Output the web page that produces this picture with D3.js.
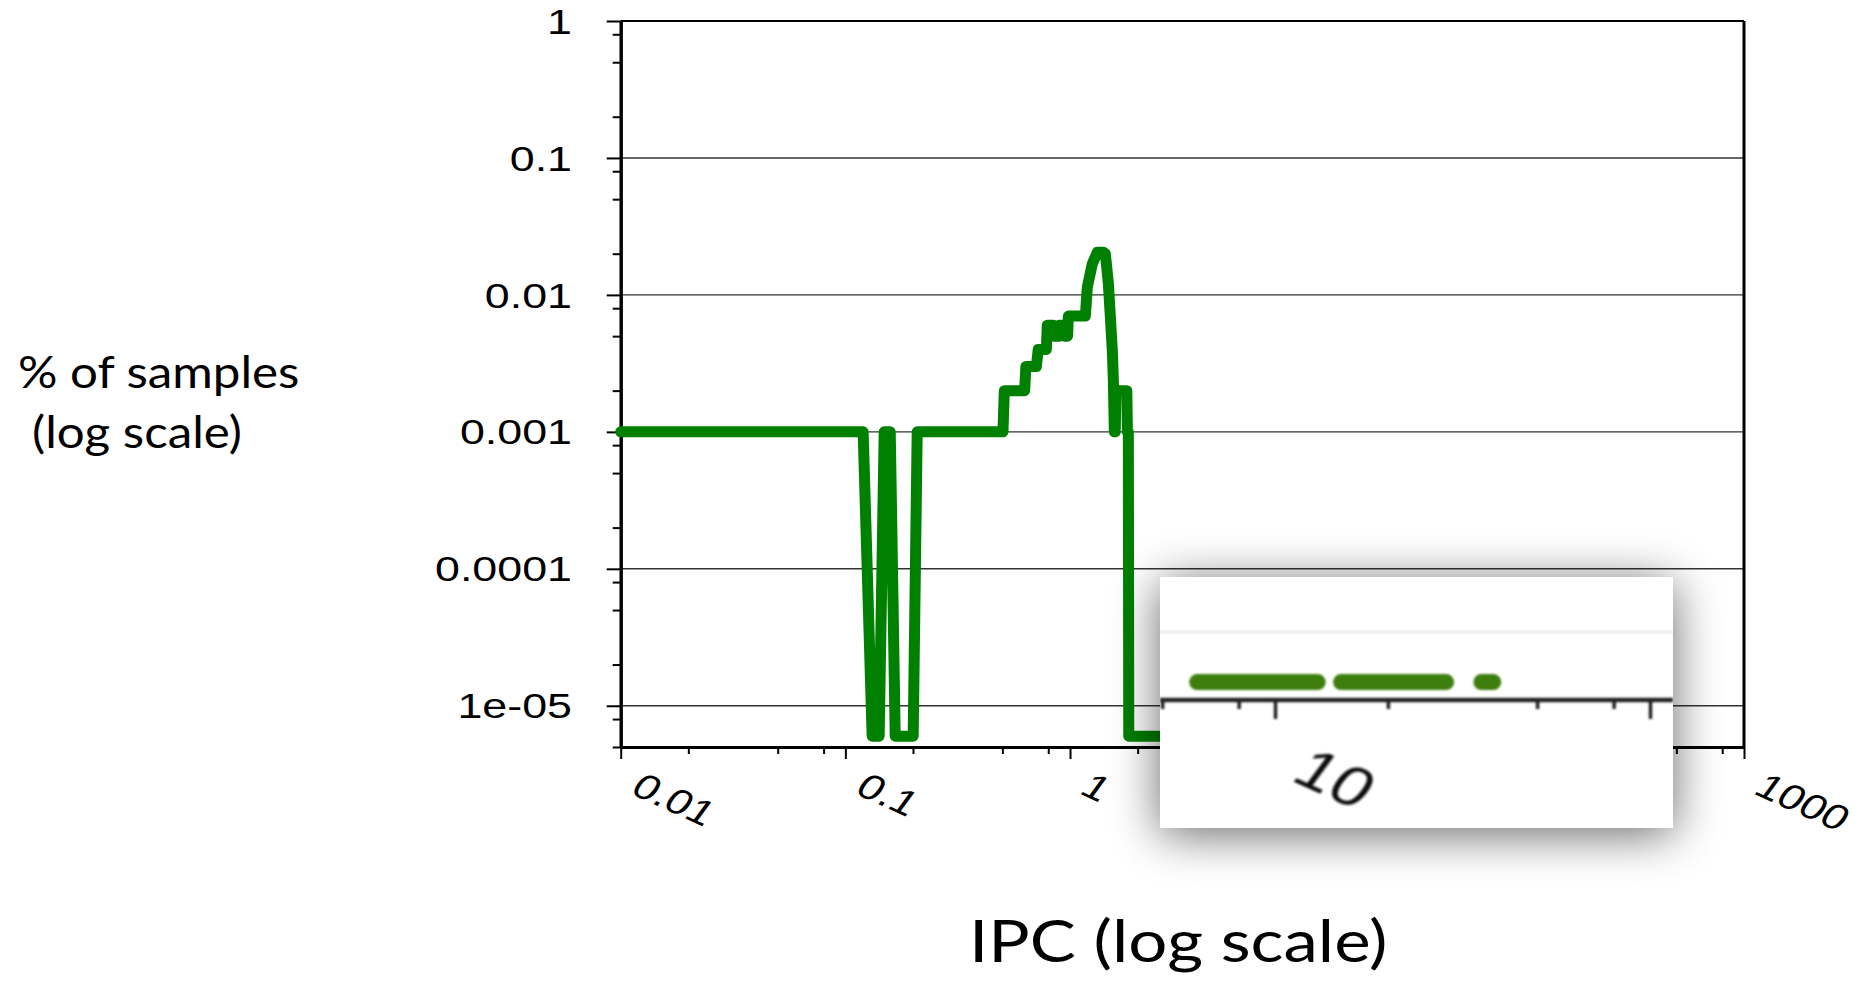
<!DOCTYPE html>
<html><head><meta charset="utf-8">
<script src="https://cdn.jsdelivr.net/npm/d3@7"></script>
<style>
html,body{margin:0;padding:0;background:#fff;}
svg{display:block;}
</style></head>
<body>
<svg id="chart" width="1858" height="981"></svg>
<script>
// ---------- data ----------
const ipc = [0.01, 0.120, 0.1316, 0.1414, 0.1489, 0.1584, 0.1667, 0.2004, 0.2088, 0.503, 0.510, 0.628, 0.636, 0.708, 0.722, 0.785, 0.792, 0.842, 0.850, 0.890, 0.900, 0.934, 0.945, 0.975, 0.983, 1.170, 1.194, 1.257, 1.323, 1.407, 1.436, 1.481, 1.512, 1.543, 1.559, 1.575, 1.590, 1.600, 1.790, 1.800, 1.818, 1.826, 5.9];
const samples = [0.001, 0.001, 6e-6, 6e-6, 0.001, 0.001, 6e-6, 6e-6, 0.001, 0.001, 0.002, 0.002, 0.003, 0.003, 0.004, 0.004, 0.006, 0.006, 0.005, 0.005, 0.006, 0.006, 0.005, 0.005, 0.007, 0.007, 0.0114, 0.0169, 0.0205, 0.0205, 0.020, 0.0122, 0.0069, 0.0039, 0.0024, 0.001, 0.001, 0.002, 0.002, 0.001, 0.001, 6e-6, 6e-6];

const xTickValues = [0.01, 0.1, 1, 10, 100, 1000];
const xTickLabels = ["0.01", "0.1", "1", "10", "100", "1000"];
const yTickValues = [1e-5, 1e-4, 1e-3, 1e-2, 1e-1, 1];
const yTickLabels = ["1e-05", "0.0001", "0.001", "0.01", "0.1", "1"];
const minorMultipliers = [2, 5, 8];

// zoomed inset (IPC around 10, at the floor level)
const insetTickValues = [10, 100];
const insetTickLabels = ["10", ""];
const insetMinorValues = [5, 8, 20, 50, 80];
const insetSegStart = [6.2, 15.0, 35.5];
const insetSegEnd = [13.0, 28.6, 38.2];
const insetLevel = 6e-6;

const yTitleLines = ["% of samples", "(log scale)"];
const xTitle = "IPC (log scale)";

// ---------- layout ----------
const svg = d3.select("#chart");
const L = 620.7, R = 1744, T = 21, B = 747;
const x = d3.scaleLog().domain([0.01, 1000]).range([L, R]);
const y = d3.scaleLog().domain([5e-6, 1]).range([B, T]);
const SX = 1.28; // horizontal stretch of the original picture

function minorsOf(domain, mults) {
  const out = [];
  const lo = Math.floor(Math.log10(domain[0])), hi = Math.ceil(Math.log10(domain[1]));
  for (let e = lo; e <= hi; e++) mults.forEach(m => {
    const v = m * Math.pow(10, e);
    if (v >= domain[0] * 0.999 && v <= domain[1] * 1.001) out.push(v);
  });
  return out;
}

// gridlines
svg.append("g").selectAll("line").data(yTickValues.filter(v => v < 1)).join("line")
  .attr("x1", L).attr("x2", R).attr("y1", d => y(d)).attr("y2", d => y(d))
  .attr("stroke", "#333").attr("stroke-width", 1.4);

// frame top/right
svg.append("line").attr("x1", L).attr("x2", R).attr("y1", T).attr("y2", T).attr("stroke", "#000").attr("stroke-width", 2);
svg.append("line").attr("x1", R).attr("x2", R).attr("y1", T).attr("y2", B).attr("stroke", "#000").attr("stroke-width", 3);

// y axis
const gy = svg.append("g").attr("transform", `translate(${L},0)`);
gy.call(d3.axisLeft(y).tickValues(minorsOf(y.domain(), minorMultipliers)).tickSize(8).tickSizeOuter(0).tickFormat(""));
gy.append("g").call(d3.axisLeft(y).tickValues(yTickValues).tickSize(14).tickSizeOuter(0).tickFormat(""));
gy.selectAll("path.domain").attr("stroke", "#000").attr("stroke-width", 3);
gy.selectAll(".tick line").attr("stroke", "#000").attr("stroke-width", 2);

// x axis
const gx = svg.append("g").attr("transform", `translate(0,${B})`);
gx.call(d3.axisBottom(x).tickValues(minorsOf(x.domain(), minorMultipliers)).tickSize(7).tickSizeOuter(0).tickFormat(""));
gx.append("g").call(d3.axisBottom(x).tickValues(xTickValues).tickSize(12).tickSizeOuter(0).tickFormat(""));
gx.selectAll("path.domain").attr("stroke", "#000").attr("stroke-width", 3);
gx.selectAll(".tick line").attr("stroke", "#000").attr("stroke-width", 2);

// y tick labels
svg.append("g").selectAll("text").data(yTickValues).join("text")
  .attr("transform", d => `translate(572,${y(d)}) scale(${SX},1)`)
  .attr("text-anchor", "end").attr("dy", "0.36em")
  .attr("font-family", "'Liberation Sans', Arial, sans-serif").attr("font-size", 35)
  .attr("fill", "#000")
  .text((d, i) => yTickLabels[i]);

// x tick labels
svg.append("g").selectAll("text").data(xTickValues).join("text")
  .attr("transform", d => `translate(${x(d) + 8},793) scale(${SX},1) rotate(30)`)
  .attr("text-anchor", "start")
  .attr("font-family", "'Liberation Sans', Arial, sans-serif").attr("font-size", 35)
  .attr("fill", "#000")
  .text((d, i) => xTickLabels[i]);

// data line
const pts = ipc.map((v, i) => [v, samples[i]]);
svg.append("path").datum(pts)
  .attr("d", d3.line().x(d => x(d[0])).y(d => y(d[1])))
  .attr("fill", "none").attr("stroke", "#008000").attr("stroke-width", 11)
  .attr("stroke-linejoin", "round").attr("stroke-linecap", "round");

// titles
svg.append("g").selectAll("text").data(yTitleLines).join("text")
  .attr("transform", (d, i) => `translate(${i === 0 ? 18 : 32},${388 + i * 60}) scale(1.12,1)`)
  .attr("font-family", "Lato, 'Open Sans', sans-serif").attr("font-size", 44)
  .attr("fill", "#000").text(d => d);
svg.append("text").attr("transform", "translate(969,962) scale(1.19,1)")
  .attr("font-family", "Lato, 'Open Sans', sans-serif").attr("font-size", 58)
  .attr("fill", "#000").text(xTitle);

// ---------- inset ----------
const IL = 1160, IR = 1673, IT = 577, IB = 828;
const defs = svg.append("defs");
const f = defs.append("filter").attr("id", "shadow")
  .attr("x", "-40%").attr("y", "-60%").attr("width", "180%").attr("height", "220%");
f.append("feGaussianBlur").attr("in", "SourceAlpha").attr("stdDeviation", 24).attr("result", "b");
f.append("feOffset").attr("in", "b").attr("dy", 6).attr("result", "o");
f.append("feComponentTransfer").attr("in", "o").attr("result", "s")
  .append("feFuncA").attr("type", "linear").attr("slope", 0.6);
const fm = f.append("feMerge");
fm.append("feMergeNode").attr("in", "s");
fm.append("feMergeNode").attr("in", "SourceGraphic");
defs.append("clipPath").attr("id", "insetClip").append("rect")
  .attr("x", IL).attr("y", IT).attr("width", IR - IL).attr("height", IB - IT);
const soft = defs.append("filter").attr("id", "soft");
soft.append("feGaussianBlur").attr("stdDeviation", 0.9);

svg.append("rect").attr("x", IL).attr("y", IT).attr("width", IR - IL).attr("height", IB - IT)
  .attr("fill", "#fff").attr("filter", "url(#shadow)");

const ix = d3.scaleLog().domain([10, 100]).range([1275, 1650]);
const iy = d3.scaleLog().domain([5e-6, 1e-5]).range([700, 632]);
const ig = svg.append("g").attr("clip-path", "url(#insetClip)").append("g").attr("filter", "url(#soft)");

ig.append("line").attr("x1", IL).attr("x2", IR).attr("y1", iy(1e-5)).attr("y2", iy(1e-5))
  .attr("stroke", "#e9e9e9").attr("stroke-width", 3);
ig.append("g").selectAll("line").data(insetSegStart).join("line")
  .attr("x1", d => ix(d)).attr("x2", (d, i) => ix(insetSegEnd[i]))
  .attr("y1", iy(insetLevel)).attr("y2", iy(insetLevel))
  .attr("stroke", "#3d7e0e").attr("stroke-width", 16).attr("stroke-linecap", "round");
ig.append("line").attr("x1", IL).attr("x2", IR).attr("y1", iy(5e-6)).attr("y2", iy(5e-6))
  .attr("stroke", "#222").attr("stroke-width", 4.5);
const iax = ig.append("g").attr("transform", `translate(0,${iy(5e-6)})`);
iax.call(d3.axisBottom(ix).tickValues(insetMinorValues).tickSize(9).tickSizeOuter(0).tickFormat(""));
iax.append("g").call(d3.axisBottom(ix).tickValues(insetTickValues).tickSize(19).tickSizeOuter(0).tickFormat(""));
iax.selectAll("path.domain").remove();
iax.selectAll(".tick line").attr("stroke", "#222").attr("stroke-width", 3.5);
ig.append("g").selectAll("text").data(insetTickValues).join("text")
  .attr("transform", d => `translate(${ix(d) + 14},780) scale(${SX},1) rotate(30)`)
  .attr("text-anchor", "start")
  .attr("font-family", "'Liberation Sans', Arial, sans-serif").attr("font-size", 55)
  .attr("fill", "#111")
  .text((d, i) => insetTickLabels[i]);
</script>
</body></html>
